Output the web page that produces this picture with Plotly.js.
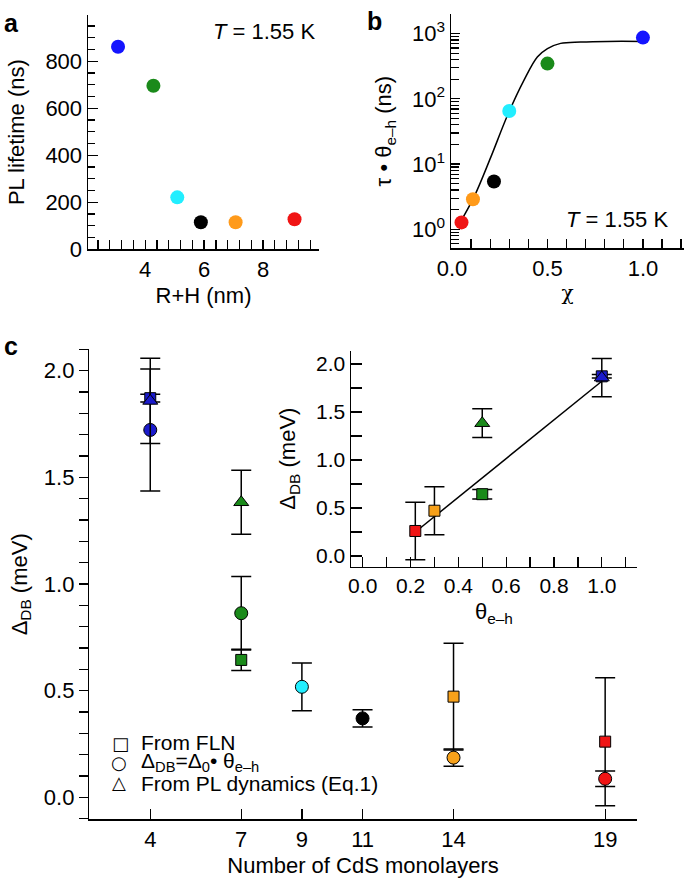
<!DOCTYPE html>
<html><head><meta charset="utf-8">
<script src="https://cdn.plot.ly/plotly-3.0.1.min.js"></script>
<style>html,body{margin:0;padding:0;background:#fff}#chart{width:685px;height:878px}</style>
</head><body><div id="chart"></div>
<script>
// ---------- Panel a ----------
const rhNm = [3.08, 4.28, 5.09, 5.89, 7.07, 9.07];
const plLifetime = [862, 696, 221, 115, 115, 128];
const colorsA = ['#1414ff', '#1a8a1a', '#22eeff', '#000000', '#ff9a1a', '#f01414'];
// ---------- Panel b ----------
const chi = [0.05, 0.11, 0.22, 0.30, 0.50, 1.00];
const tauTheta = [1.28, 2.9, 5.4, 65, 347, 868];
const colorsB = ['#f01414', '#ff9a1a', '#000000', '#22eeff', '#1a8a1a', '#1414ff'];
const fitChi = [0.05, 0.117, 0.204, 0.291, 0.378, 0.447, 0.50, 0.569, 0.674, 0.813, 1.0];
const fitTau = [1.39, 3.2, 12.9, 56, 195, 437, 589, 708, 741, 759, 759];
const yTicksB = [1, 10, 100, 1000];
const yTickTextB = ['10<sup>0</sup>', '10<sup>1</sup>', '10<sup>2</sup>', '10<sup>3</sup>'];
// ---------- Panel c ----------
const monolayerTicks = [4, 7, 9, 11, 14, 19];
const flnLayers = [4, 7, 14, 19];
const flnDelta = [1.871, 0.644, 0.472, 0.261];
const flnErr = [0.018, 0.05, 0.25, 0.30];
const flnTheta = [1.0, 0.5, 0.3, 0.22];
const flnColors = ['#1a1acc', '#1a8a1a', '#f7a11a', '#f01414'];
const calcLayers = [4, 7, 9, 11, 14, 19];
const calcDelta = [1.722, 0.863, 0.518, 0.370, 0.186, 0.087];
const calcErr = [0.286, 0.172, 0.112, 0.04, 0.04, 0.036];
const calcColors = ['#1a1acc', '#1a8a1a', '#22eeff', '#000000', '#f7a11a', '#f01414'];
const plLayers = [4, 7];
const plDelta = [1.858, 1.383];
const plErr = [0.20, 0.15];
const plTheta = [1.0, 0.5];
const plColors = ['#1a1acc', '#1a8a1a'];
const insetFitTheta = [0.215, 1.0];
const insetFitDelta = [0.24, 1.82];

const W = 685, H = 878;
const dx = p => p / W;
const dy = p => 1 - p / H;
const FONT = 'Liberation Sans, Arial, sans-serif';
const black = '#000';

function axisBase(extra) {
  return Object.assign({
    showline: true, linecolor: black, linewidth: 1.5, mirror: false,
    showgrid: false, zeroline: false, tickcolor: black, tickwidth: 1.3,
    tickfont: {family: FONT, size: 22, color: black}, fixedrange: true
  }, extra);
}

const errStyle = {type: 'data', visible: true, color: black, thickness: 1.5, width: 10};

const traces = [
  // a
  {x: rhNm, y: plLifetime, xaxis: 'x', yaxis: 'y', mode: 'markers', type: 'scatter',
   marker: {size: 14, color: colorsA}, showlegend: false, hoverinfo: 'skip'},
  // b fit
  {x: fitChi, y: fitTau, xaxis: 'x2', yaxis: 'y2', mode: 'lines', type: 'scatter',
   line: {color: black, width: 1.5, shape: 'spline'}, showlegend: false, hoverinfo: 'skip'},
  // b points
  {x: chi, y: tauTheta, xaxis: 'x2', yaxis: 'y2', mode: 'markers', type: 'scatter',
   marker: {size: 14, color: colorsB}, showlegend: false, hoverinfo: 'skip'},
  // c main
  {x: flnLayers, y: flnDelta, xaxis: 'x3', yaxis: 'y3', mode: 'markers', type: 'scatter',
   error_y: Object.assign({array: flnErr}, errStyle),
   marker: {symbol: 'square', size: 11, color: flnColors, line: {color: black, width: 1}},
   showlegend: false, hoverinfo: 'skip'},
  {x: calcLayers, y: calcDelta, xaxis: 'x3', yaxis: 'y3', mode: 'markers', type: 'scatter',
   error_y: Object.assign({array: calcErr}, errStyle),
   marker: {symbol: 'circle', size: 13, color: calcColors, line: {color: black, width: 1}},
   showlegend: false, hoverinfo: 'skip'},
  {x: plLayers, y: plDelta, xaxis: 'x3', yaxis: 'y3', mode: 'markers', type: 'scatter',
   error_y: Object.assign({array: plErr}, errStyle),
   marker: {symbol: 'triangle-up', size: 13, color: plColors, line: {color: black, width: 1}},
   showlegend: false, hoverinfo: 'skip'},
  // inset
  {x: insetFitTheta, y: insetFitDelta, xaxis: 'x4', yaxis: 'y4', mode: 'lines', type: 'scatter',
   line: {color: black, width: 1.5}, showlegend: false, hoverinfo: 'skip'},
  {x: flnTheta, y: flnDelta, xaxis: 'x4', yaxis: 'y4', mode: 'markers', type: 'scatter',
   error_y: Object.assign({array: flnErr}, errStyle),
   marker: {symbol: 'square', size: 11, color: flnColors, line: {color: black, width: 1}},
   showlegend: false, hoverinfo: 'skip'},
  {x: plTheta, y: plDelta, xaxis: 'x4', yaxis: 'y4', mode: 'markers', type: 'scatter',
   error_y: Object.assign({array: plErr}, errStyle),
   marker: {symbol: 'triangle-up', size: 13, color: plColors, line: {color: black, width: 1}},
   showlegend: false, hoverinfo: 'skip'}
];

const minorLogB = [];
for (let d = -1; d <= 3; d++) for (let k = 2; k <= 9; k++) minorLogB.push(k * Math.pow(10, d));

const titleFont = {family: FONT, size: 22, color: black};

const layout = {
  width: W, height: H, margin: {l: 0, r: 0, t: 0, b: 0},
  paper_bgcolor: '#fff', plot_bgcolor: 'rgba(0,0,0,0)', showlegend: false,
  font: {family: FONT, size: 22, color: black},
  xaxis: axisBase({domain: [dx(88), dx(319)], anchor: 'y', range: [2.06, 9.9],
    tickmode: 'linear', tick0: 0, dtick: 2, ticks: 'inside', ticklen: 9,
    minor: {tickmode: 'linear', tick0: 0, dtick: 0.4, ticks: 'inside', ticklen: 9, tickcolor: black, tickwidth: 1.3},
    title: {text: 'R+H (nm)', font: titleFont, standoff: 6}}),
  yaxis: axisBase({domain: [dy(249.3), dy(15)], anchor: 'x', range: [0, 997],
    tickmode: 'linear', tick0: 0, dtick: 200, ticks: 'inside', ticklen: 10,
    minor: {tickmode: 'linear', tick0: 0, dtick: 50, ticks: 'inside', ticklen: 7, tickcolor: black, tickwidth: 1.3},
    title: {text: 'PL lifetime (ns)', font: titleFont, standoff: 14}}),
  xaxis2: axisBase({domain: [dx(451), dx(684)], anchor: 'y2', range: [-0.005, 1.215],
    tickmode: 'linear', tick0: 0, dtick: 0.5, tickformat: '.1f', ticks: 'inside', ticklen: 9,
    minor: {tickmode: 'linear', tick0: 0, dtick: 0.1, ticks: 'inside', ticklen: 9, tickcolor: black, tickwidth: 1.3},
    title: {text: 'χ', font: {family: 'DejaVu Serif', size: 20, color: black}, standoff: 6}}),
  yaxis2: axisBase({domain: [dy(248.3), dy(14)], anchor: 'x2', type: 'log', range: [-0.29, 3.30],
    tickmode: 'array', tickvals: yTicksB, ticktext: yTickTextB, ticks: 'inside', ticklen: 9,
    minor: {tickmode: 'array', tickvals: minorLogB, ticks: 'inside', ticklen: 8, tickcolor: black, tickwidth: 1.2},
    title: {text: 'τ • θ<sub>e–h</sub> (ns)', font: titleFont, standoff: 14}}),
  xaxis3: axisBase({domain: [dx(89.3), dx(636.7)], anchor: 'y3', range: [1.99, 20.04],
    tickmode: 'array', tickvals: monolayerTicks, ticktext: monolayerTicks.map(String), ticks: 'inside', ticklen: 10,
    title: {text: 'Number of CdS monolayers', font: titleFont, standoff: 10}}),
  yaxis3: axisBase({domain: [dy(819.3), dy(349.3)], anchor: 'x3', range: [-0.103, 2.10],
    tickmode: 'linear', tick0: 0, dtick: 0.5, tickformat: '.1f', ticks: 'outside', ticklen: 9,
    minor: {tickmode: 'linear', tick0: 0, dtick: 0.1, ticks: 'outside', ticklen: 9, tickcolor: black, tickwidth: 1.3},
    title: {text: 'Δ<sub>DB</sub> (meV)', font: titleFont, standoff: 10}}),
  xaxis4: axisBase({domain: [dx(351), dx(636.7)], anchor: 'y4', range: [-0.049, 1.146],
    tickmode: 'linear', tick0: 0, dtick: 0.2, tickformat: '.1f', ticks: 'inside', ticklen: 10,
    tickfont: {family: FONT, size: 21, color: black},
    minor: {tickmode: 'linear', tick0: 0, dtick: 0.1, ticks: 'inside', ticklen: 10, tickcolor: black, tickwidth: 1.3},
    title: {text: 'θ<sub>e–h</sub>', font: titleFont, standoff: 7}}),
  yaxis4: axisBase({domain: [dy(566.7), dy(350.6)], anchor: 'x4', range: [-0.111, 2.139],
    tickmode: 'linear', tick0: 0, dtick: 0.5, tickformat: '.1f', ticks: 'inside', ticklen: 11,
    tickfont: {family: FONT, size: 21, color: black},
    minor: {tickmode: 'linear', tick0: 0, dtick: 0.25, ticks: 'inside', ticklen: 11, tickcolor: black, tickwidth: 1.3},
    title: {text: 'Δ<sub>DB</sub> (meV)', font: titleFont, standoff: 14}}),
  annotations: [
    {text: '<b>a</b>', xref: 'paper', yref: 'paper', x: dx(2), y: dy(7), xanchor: 'left', yanchor: 'top', showarrow: false, font: {family: FONT, size: 25, color: black}},
    {text: '<b>b</b>', xref: 'paper', yref: 'paper', x: dx(365), y: dy(5), xanchor: 'left', yanchor: 'top', showarrow: false, font: {family: FONT, size: 25, color: black}},
    {text: '<b>c</b>', xref: 'paper', yref: 'paper', x: dx(2), y: dy(330), xanchor: 'left', yanchor: 'top', showarrow: false, font: {family: FONT, size: 25, color: black}},
    {text: '<i>T</i> = 1.55 K', xref: 'paper', yref: 'paper', x: dx(317), y: dy(31), xanchor: 'right', yanchor: 'middle', showarrow: false, font: {family: FONT, size: 22, color: black}},
    {text: '<i>T</i> = 1.55 K', xref: 'paper', yref: 'paper', x: dx(670), y: dy(219), xanchor: 'right', yanchor: 'middle', showarrow: false, font: {family: FONT, size: 22, color: black}},
    {text: '□', xref: 'paper', yref: 'paper', x: dx(120), y: dy(743), xanchor: 'center', yanchor: 'middle', showarrow: false, font: {family: 'DejaVu Sans', size: 18, color: black}},
    {text: '○', xref: 'paper', yref: 'paper', x: dx(119), y: dy(762), xanchor: 'center', yanchor: 'middle', showarrow: false, font: {family: 'DejaVu Sans', size: 18, color: black}},
    {text: '△', xref: 'paper', yref: 'paper', x: dx(118.5), y: dy(782), xanchor: 'center', yanchor: 'middle', showarrow: false, font: {family: 'DejaVu Sans', size: 18, color: black}},
    {text: 'From FLN', xref: 'paper', yref: 'paper', x: dx(139), y: dy(742), xanchor: 'left', yanchor: 'middle', showarrow: false, font: {family: FONT, size: 21, color: black}},
    {text: 'Δ<sub>DB</sub>=Δ<sub>0</sub>• θ<sub>e–h</sub>', xref: 'paper', yref: 'paper', x: dx(139), y: dy(762), xanchor: 'left', yanchor: 'middle', showarrow: false, font: {family: FONT, size: 21, color: black}},
    {text: 'From PL dynamics (Eq.1)', xref: 'paper', yref: 'paper', x: dx(139), y: dy(783), xanchor: 'left', yanchor: 'middle', showarrow: false, font: {family: FONT, size: 21, color: black}}
  ]
};

Plotly.newPlot('chart', traces, layout, {staticPlot: true, displayModeBar: false});
</script></body></html>
